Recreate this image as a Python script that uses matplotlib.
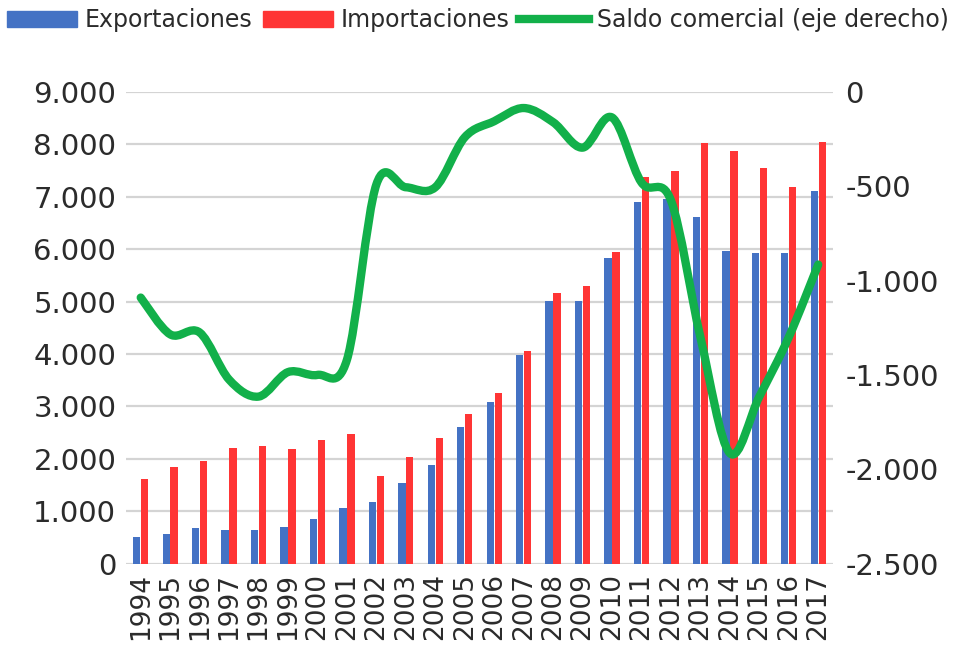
import matplotlib
matplotlib.use("Agg")
import matplotlib.pyplot as plt
import numpy as np
from matplotlib.path import Path
from matplotlib.patches import PathPatch, Patch
from matplotlib.lines import Line2D
from matplotlib.ticker import FuncFormatter

# data
years = [str(y) for y in range(1994, 2018)]
exportaciones = [510, 565, 670, 640, 640, 700, 855, 1060, 1180, 1530, 1880, 2610,
                 3080, 3980, 5010, 5010, 5830, 6900, 6950, 6610, 5965, 5930, 5930, 7110]
importaciones = [1610, 1850, 1960, 2200, 2250, 2185, 2360, 2465, 1670, 2030, 2390, 2855,
                 3255, 4055, 5160, 5295, 5945, 7375, 7490, 8025, 7870, 7550, 7185, 8045]
saldo = [-1090, -1285, -1275, -1525, -1615, -1485, -1500, -1420, -490, -505, -505, -240,
         -155, -85, -160, -295, -135, -480, -575, -1300, -1915, -1615, -1300, -915]

left_ticks = [0, 1000, 2000, 3000, 4000, 5000, 6000, 7000, 8000, 9000]
right_ticks = [0, -500, -1000, -1500, -2000, -2500]

BLUE = "#4472C4"
RED = "#FF3535"
GREEN = "#12B04A"
GRID = "#D4D4D4"
TXT = "#2B2B2B"

plt.rcParams["font.family"] = ["DejaVu Sans"]


def miles(v, pos):
    return f"{v:,.0f}".replace(",", ".")


def smooth_path(x, y):
    # Catmull-Rom style smoothing turned into cubic Bezier segments
    pts = np.column_stack([x, y]).astype(float)
    ext = np.vstack([pts[0], pts, pts[-1]])
    verts = [pts[0]]
    codes = [Path.MOVETO]
    for i in range(1, len(ext) - 2):
        p0, p1, p2, p3 = ext[i - 1], ext[i], ext[i + 1], ext[i + 2]
        verts += [p1 + (p2 - p0) / 6, p2 - (p3 - p1) / 6, p2]
        codes += [Path.CURVE4] * 3
    return Path(verts, codes)


fig = plt.figure(figsize=(9.56, 6.52), dpi=100)
ax = fig.add_axes([0.1318, 0.1357, 0.7395, 0.7232])
x = np.arange(len(years))
w = 0.25
ax.bar(x - 0.135, exportaciones, width=w, color=BLUE, zorder=2)
ax.bar(x + 0.135, importaciones, width=w, color=RED, zorder=2)
ax.set_xlim(-0.5, len(years) - 0.5)
ax.set_ylim(0, 9000)
ax.set_yticks(left_ticks)
ax.yaxis.set_major_formatter(FuncFormatter(miles))
ax.set_xticks(x)
ax.set_xticklabels(years, rotation=90)
ax.grid(axis="y", color=GRID, lw=1.6, zorder=0)
ax.set_axisbelow(True)
for s in ax.spines.values():
    s.set_visible(False)
ax.tick_params(axis="both", length=0, colors=TXT)
ax.tick_params(axis="y", labelsize=21, pad=7)
ax.tick_params(axis="x", labelsize=19, pad=7)

ax2 = ax.twinx()
ax2.set_ylim(-2500, 0)
ax2.set_yticks(right_ticks)
ax2.yaxis.set_major_formatter(FuncFormatter(miles))
for s in ax2.spines.values():
    s.set_visible(False)
ax2.tick_params(axis="y", length=0, labelsize=21, colors=TXT, pad=9)
ax2.add_patch(PathPatch(smooth_path(x, saldo), fill=False, edgecolor=GREEN,
                        lw=6, capstyle="round", joinstyle="round"))

handles = [Patch(color=BLUE), Patch(color=RED), Line2D([], [], color=GREEN, lw=6)]
labels = ["Exportaciones", "Importaciones", "Saldo comercial (eje derecho)"]
fig.legend(handles, labels, loc="center", bbox_to_anchor=(0.5, 0.969), ncol=3,
           frameon=False, fontsize=17, handlelength=2.97, handleheight=0.62,
           handletextpad=0.33, columnspacing=0.42, labelcolor=TXT)

fig.savefig("out.png", dpi=100)
